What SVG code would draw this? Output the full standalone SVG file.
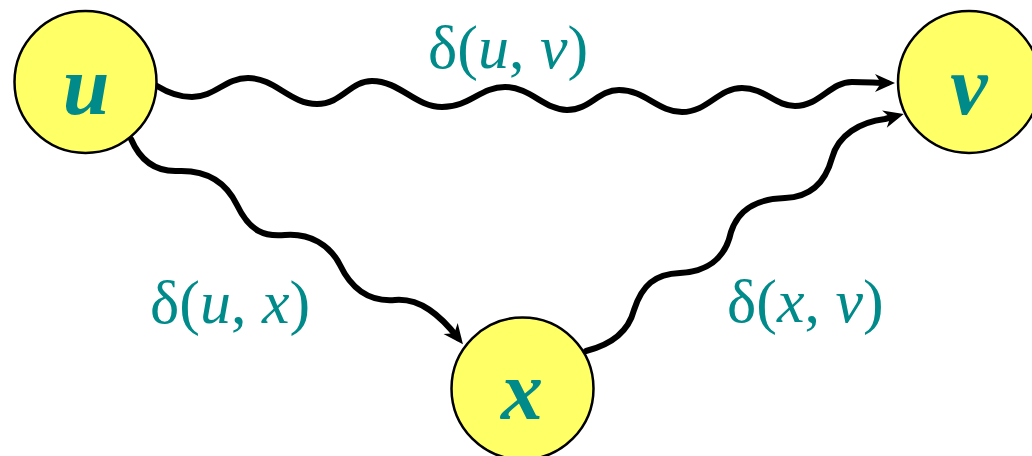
<svg xmlns="http://www.w3.org/2000/svg" width="1032" height="456" viewBox="0 0 1032 456">
<style>
.node{fill:#FFFF66;stroke:#000;stroke-width:2.5}
.nl{font-family:"Liberation Serif","Times New Roman",serif;font-style:italic;font-weight:bold;font-size:84px;fill:#008A8A;text-anchor:middle}
.el{font-family:"Liberation Serif","Times New Roman",serif;font-size:62px;fill:#008A8A}
.i{font-style:italic}
.edge{fill:none;stroke:#000;stroke-width:6;stroke-linecap:round;stroke-linejoin:round}
</style>
<defs>
<marker id="ah" markerUnits="userSpaceOnUse" orient="auto" overflow="visible" markerWidth="1" markerHeight="1">
<path d="M8,0 L-12,-9 L-6,0 L-12,9 Z" fill="#000"/>
</marker>
</defs>
<rect width="1032" height="456" fill="#fff"/>
<g id="connectors">
<path class="edge" marker-end="url(#ah)" d="M157,86 C170,94 180,97 192,97 C215,97 225,78 248,78 C275,78 290,104 317,104 C342,104 350,81 372,81 C400,81 415,107 442,107 C470,107 480,87 505,87 C530,87 545,110 567,110 C590,110 598,90 619,90 C645,90 658,112 682,112 C708,112 718,88 742,88 C765,88 775,106 795,106 C820,106 830,82 852,82 C868,82 876,83 887,83"/>
<path class="edge" marker-end="url(#ah)" d="M131,139 C140,160 155,172 178,171 C205,170 225,180 237,205 C250,232 265,237 285,235 C310,233 330,245 340,265 C352,290 370,302 395,300 C420,298 440,315 458,338"/>
<path class="edge" marker-end="url(#ah)" d="M586,351 C610,345 628,333 634,310 C642,285 655,274 680,273 C705,272 725,260 731,232 C738,210 755,199 785,198 C812,197 826,180 832,158 C838,135 860,122 885,119 L896,116"/>
</g>
<g id="node-u">
<circle class="node" cx="85.5" cy="82" r="71"/>
<text class="nl" x="86" y="114">u</text>
</g>
<g id="node-v">
<circle class="node" cx="969" cy="82" r="71"/>
<text class="nl" x="969" y="114">v</text>
</g>
<g id="node-x">
<circle class="node" cx="522.5" cy="388.5" r="71"/>
<text class="nl" x="522" y="419">x</text>
</g>
<g id="labels">
<text class="el" x="428" y="68">δ(<tspan class="i">u</tspan>, <tspan class="i">v</tspan>)</text>
<text class="el" x="150" y="323">δ(<tspan class="i">u</tspan>, <tspan class="i">x</tspan>)</text>
<text class="el" x="727" y="322">δ(<tspan class="i">x</tspan>, <tspan class="i">v</tspan>)</text>
</g>
</svg>
